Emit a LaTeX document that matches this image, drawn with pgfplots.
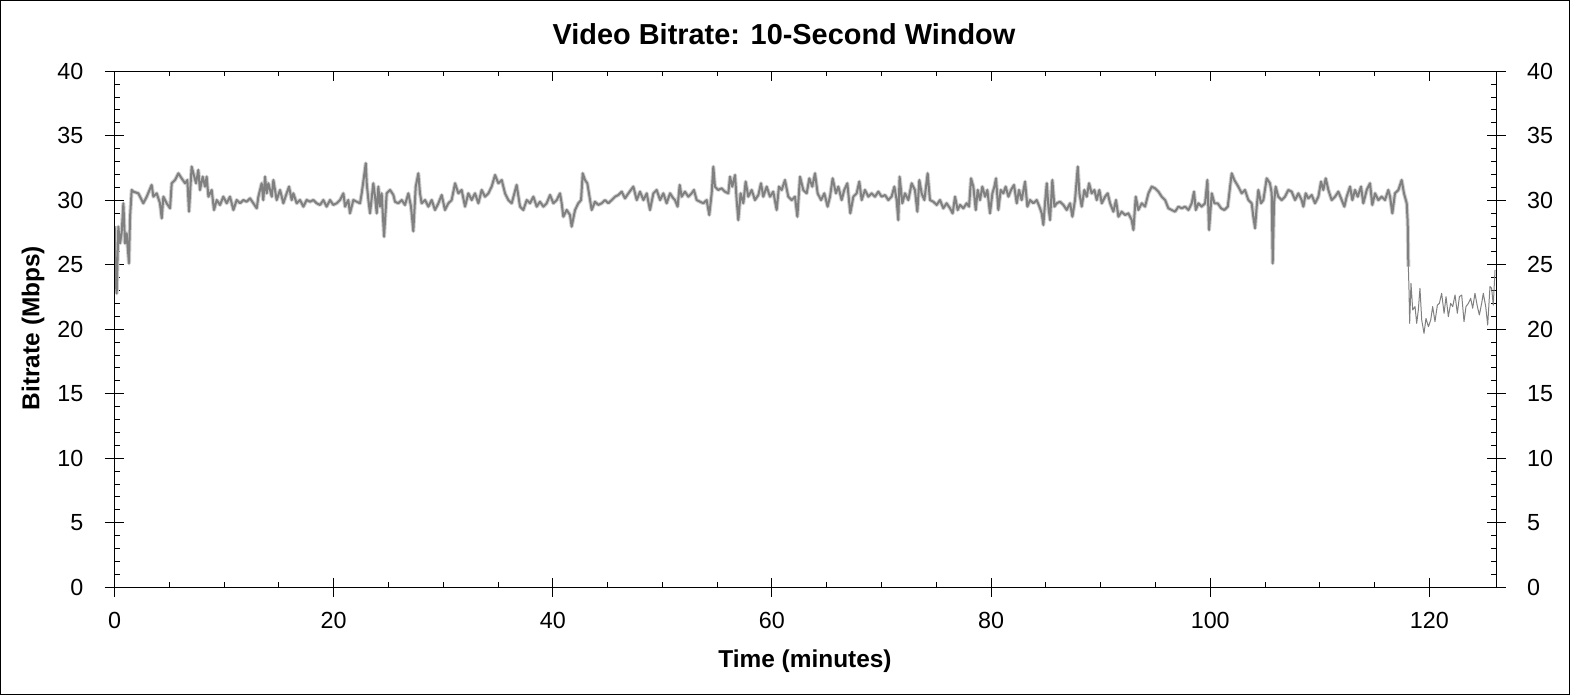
\documentclass[border=0pt]{standalone}
\usepackage{fontspec}
\setmainfont{Liberation Sans}
\usepackage{pgfplots}
\usepackage{pgfplotstable}
\pgfplotsset{compat=1.18}

\definecolor{trace}{HTML}{808080}
\definecolor{halo}{HTML}{D0D0D0}

% bitrate in Mbps against time in minutes
\pgfplotstableread{
t v
0.02 28.00
0.11 23.56
0.20 22.79
0.35 27.96
0.50 26.66
0.65 27.44
0.81 29.77
0.96 26.66
1.11 27.44
1.32 25.11
1.42 28.73
1.57 30.80
1.72 30.67
2.18 30.54
2.63 29.77
2.94 30.28
3.39 31.19
3.55 30.28
3.85 30.54
4.15 29.77
4.31 28.60
4.46 30.28
4.76 29.77
5.07 29.38
5.22 31.32
5.52 31.57
5.83 32.09
6.13 31.70
6.44 31.32
6.65 31.57
6.80 29.12
7.04 32.61
7.20 32.09
7.44 31.32
7.65 32.35
7.80 30.80
8.05 31.83
8.26 31.06
8.41 31.83
8.57 30.28
8.87 30.80
9.08 29.25
9.33 30.02
9.63 29.64
9.93 30.28
10.24 29.77
10.54 30.28
10.85 29.25
11.15 30.02
11.46 29.77
11.76 30.02
12.06 29.89
12.37 30.15
12.67 29.77
12.98 29.38
13.13 30.28
13.43 31.32
13.58 30.02
13.74 31.83
13.89 30.54
14.04 31.32
14.35 30.28
14.50 31.57
14.80 30.02
15.11 30.80
15.41 29.77
15.71 30.54
15.93 31.06
16.17 30.02
16.32 30.54
16.63 29.77
16.93 30.02
17.24 29.51
17.54 30.02
17.84 29.89
18.15 30.02
18.45 29.77
18.76 29.64
19.06 30.02
19.36 29.51
19.67 30.02
19.97 29.64
20.28 29.77
20.58 30.02
20.89 30.54
21.04 29.51
21.34 30.02
21.49 28.99
21.80 30.02
22.10 29.89
22.41 29.77
22.56 30.54
22.77 31.83
22.93 32.87
23.02 31.32
23.17 30.02
23.32 28.99
23.62 31.32
23.78 30.28
23.93 28.99
24.08 31.06
24.23 29.51
24.38 30.54
24.60 27.18
24.84 30.54
25.15 30.80
25.45 30.41
25.60 29.89
25.90 29.77
26.21 30.02
26.51 29.64
26.82 30.54
27.06 29.51
27.27 27.60
27.49 31.06
27.73 32.09
27.88 30.54
28.03 29.77
28.34 30.02
28.64 29.51
28.95 30.02
29.25 29.25
29.56 29.77
29.86 30.41
30.16 29.25
30.47 29.77
30.77 30.02
31.08 31.32
31.38 30.54
31.68 30.80
31.99 29.51
32.29 30.54
32.60 30.02
32.90 30.54
33.21 29.77
33.51 30.80
33.81 30.28
34.12 30.54
34.42 31.06
34.73 31.96
35.03 31.32
35.34 31.57
35.64 30.54
35.94 30.02
36.25 29.77
36.70 31.19
37.01 29.51
37.31 29.25
37.62 30.02
37.92 29.77
38.23 30.28
38.53 29.51
38.83 29.89
39.14 29.51
39.44 29.77
39.75 30.41
40.05 29.77
40.36 30.02
40.66 30.54
40.81 29.77
40.96 28.73
41.27 29.25
41.57 28.86
41.72 27.96
42.03 29.25
42.33 29.77
42.58 30.02
42.73 32.09
42.94 31.57
43.15 31.32
43.40 30.02
43.55 29.25
43.85 29.89
44.16 29.64
44.46 29.77
44.77 30.02
45.07 29.77
45.37 30.02
45.68 30.28
45.98 30.41
46.29 30.67
46.59 30.15
46.90 30.54
47.35 31.06
47.66 30.02
47.96 30.67
48.27 30.02
48.57 30.54
48.87 29.25
49.18 30.54
49.48 30.80
49.79 30.02
50.09 30.54
50.39 29.77
50.70 30.54
51.00 30.15
51.15 30.02
51.39 29.51
51.58 31.19
51.76 30.28
52.06 30.67
52.37 30.28
52.67 30.54
52.88 30.80
53.13 30.02
53.43 29.89
53.74 29.77
54.04 30.02
54.28 28.86
54.50 30.54
54.65 32.61
54.80 31.06
55.10 30.80
55.41 30.93
55.71 30.67
56.02 30.54
56.17 31.83
56.38 31.06
56.63 31.96
56.78 30.02
56.93 28.47
57.14 30.54
57.39 29.77
57.60 31.45
57.84 30.28
58.15 30.80
58.45 30.02
58.76 30.41
59.00 31.32
59.21 30.28
59.52 31.06
59.82 30.28
60.12 30.67
60.43 29.25
60.64 31.06
60.89 30.80
61.19 31.57
61.49 30.28
61.80 30.02
62.10 30.28
62.32 28.73
62.56 31.83
62.86 30.80
63.17 30.54
63.41 31.70
63.68 31.06
63.93 32.09
64.17 30.54
64.48 30.02
64.78 30.54
65.08 29.51
65.30 30.28
65.54 31.70
65.84 30.54
66.06 31.06
66.36 30.02
66.60 30.80
66.88 31.32
67.15 28.99
67.43 30.28
67.73 30.54
67.97 31.45
68.19 30.02
68.49 30.80
68.80 30.28
69.10 30.54
69.40 30.28
69.71 30.67
70.01 30.28
70.32 30.41
70.62 30.02
70.92 30.28
71.17 31.06
71.38 30.02
71.53 28.47
71.65 31.83
71.90 29.77
72.14 30.54
72.45 30.02
72.75 31.32
73.05 30.80
73.27 29.12
73.45 31.57
73.66 30.54
73.91 30.02
74.21 32.09
74.42 30.02
74.73 29.89
75.03 29.64
75.34 30.02
75.64 29.38
75.94 29.77
76.25 29.38
76.49 28.99
76.71 30.28
76.95 29.25
77.17 29.64
77.47 29.38
77.77 29.77
77.99 29.51
78.17 31.70
78.38 31.06
78.60 29.25
78.78 30.80
78.99 30.02
79.20 31.06
79.45 30.28
79.66 30.80
79.90 28.99
80.12 30.54
80.30 31.06
80.45 31.70
80.66 29.25
80.88 30.80
81.12 30.54
81.33 31.06
81.58 30.28
81.82 30.80
82.09 31.19
82.34 29.77
82.55 30.80
82.79 30.02
83.10 31.45
83.31 29.51
83.56 30.02
83.86 29.77
84.16 30.02
84.41 29.51
84.62 28.99
84.77 28.09
84.92 29.77
85.08 31.32
85.23 29.51
85.38 28.47
85.59 31.57
85.78 29.51
85.99 29.77
86.29 29.89
86.60 29.64
86.90 29.25
87.21 29.77
87.42 28.73
87.66 30.02
87.91 32.61
88.06 30.54
88.27 29.51
88.51 30.80
88.73 30.28
88.94 31.32
89.18 30.54
89.43 30.80
89.64 30.02
89.88 30.80
90.10 29.77
90.40 30.28
90.64 30.54
90.86 29.77
91.16 29.12
91.40 30.02
91.62 28.73
91.92 29.12
92.23 28.86
92.53 28.99
92.83 28.47
92.99 27.70
93.20 30.28
93.44 29.25
93.75 29.77
94.05 29.51
94.36 30.54
94.66 31.06
94.96 30.93
95.27 30.67
95.57 30.28
95.88 30.02
96.18 29.38
96.48 29.25
96.79 29.12
97.09 29.51
97.40 29.38
97.70 29.51
98.01 29.25
98.31 29.77
98.52 30.67
98.68 29.25
98.92 29.77
99.22 29.51
99.53 29.77
99.74 31.57
99.89 27.70
100.14 30.54
100.38 29.77
100.68 29.77
100.99 29.38
101.29 29.25
101.60 29.51
101.81 31.06
101.96 32.09
102.20 31.57
102.56 31.06
102.87 30.54
103.17 30.80
103.48 30.02
103.78 29.77
103.93 28.73
104.09 27.83
104.24 29.51
104.39 30.80
104.63 29.77
104.85 30.02
105.15 31.70
105.45 31.32
105.61 30.54
105.70 25.11
105.82 29.77
105.97 31.06
106.21 30.28
106.52 30.02
106.82 30.28
107.13 30.80
107.43 30.67
107.74 30.02
108.04 30.54
108.34 30.02
108.50 29.51
108.71 30.54
108.95 30.15
109.26 30.41
109.56 29.77
109.87 30.28
110.11 31.45
110.32 30.80
110.54 31.70
110.78 30.80
111.08 30.02
111.39 30.28
111.69 30.67
112.00 30.02
112.24 29.51
112.45 30.28
112.76 31.06
112.97 30.02
113.21 30.80
113.46 30.28
113.76 31.06
113.97 29.77
114.28 30.80
114.58 31.32
114.79 29.64
115.04 30.54
115.34 30.02
115.65 30.28
115.95 30.02
116.25 30.80
116.41 30.28
116.62 28.99
116.86 30.54
117.17 30.80
117.47 31.57
117.68 30.54
117.93 29.77
118.02 28.30
118.08 24.86
}\mainrate

\pgfplotstableread{
t v
118.08 24.86
118.14 23.05
118.20 20.46
118.32 23.56
118.48 21.50
118.69 21.76
118.84 20.46
118.99 21.50
119.14 23.18
119.30 20.72
119.51 19.69
119.69 20.85
119.91 20.20
120.12 20.72
120.30 21.76
120.51 20.59
120.73 21.88
120.91 22.01
121.12 22.79
121.34 21.24
121.52 22.53
121.73 20.98
121.94 22.01
122.13 21.76
122.34 22.66
122.55 21.24
122.74 22.53
122.95 22.66
123.16 20.59
123.34 21.76
123.56 22.01
123.77 22.40
123.95 21.63
124.16 22.79
124.38 21.76
124.56 21.11
124.77 22.01
124.92 22.79
125.14 21.76
125.32 20.33
125.53 23.31
125.68 23.18
125.83 21.88
125.99 24.60
}\tailrate

\pgfplotsset{
  rateframe/.style={
    at={(114.5bp,107.7bp)}, anchor=south west,
    scale only axis, width=1381.5bp, height=516bp,
    xmin=0, xmax=126.08, ymin=0, ymax=40,
    xtick={0,20,...,120}, ytick={0,5,...,40},
    axis line style={line width=1bp},
    every tick/.style={black, line width=1bp},
    /pgf/number format/assume math mode=true,
    tick label style={font=\fontsize{23.4}{28}\selectfont, inner sep=0pt},
  },
}

\begin{document}
\begin{tikzpicture}
\useasboundingbox (0,0) rectangle (1570bp,695bp);
\draw[line width=1bp] (0.5bp,0.5bp) rectangle (1569.5bp,694.5bp);

% inner ticks, data, bottom and left labels
\begin{axis}[rateframe,
    minor x tick num=3, minor y tick num=4,
    tick align=inside, major tick length=9.5bp, minor tick length=5bp,
    xticklabel shift=25bp, yticklabel shift=31bp]
  \addplot[halo, line width=4bp, line join=round] table[x=t, y=v] {\mainrate};
  \addplot[trace, line width=2bp, line join=round] table[x=t, y=v] {\mainrate};
  \addplot[trace, line width=1bp, line join=round] table[x=t, y=v] {\tailrate};
\end{axis}

% outer halves of the major ticks, right labels
\begin{axis}[rateframe, xtick pos=lower, xticklabels={},
    tick align=outside, major tick length=9.5bp,
    minor x tick num=0, minor y tick num=0,
    yticklabel pos=right, yticklabel shift=21.5bp]
\end{axis}

\node[font=\bfseries\fontsize{29}{33}\selectfont] at (784bp,661bp) {Video Bitrate: 10-Second Window};
\node[font=\bfseries\fontsize{24.5}{29}\selectfont] at (805bp,34bp) {Time (minutes)};
\node[font=\bfseries\fontsize{24.5}{29}\selectfont, rotate=90] at (33bp,367bp) {Bitrate (Mbps)};
\end{tikzpicture}
\end{document}
